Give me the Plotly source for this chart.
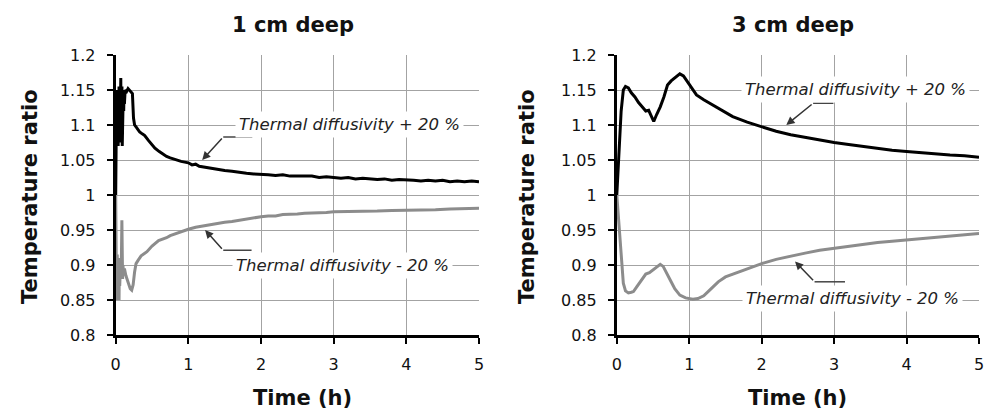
import plotly.graph_objects as go

# ---------------- data ----------------
t_1cm_plus = [0.0, 0.003, 0.006, 0.009, 0.012, 0.015, 0.018, 0.021, 0.024, 0.027, 0.03, 0.034, 0.038, 0.042,
              0.046, 0.05, 0.054, 0.058, 0.062, 0.066, 0.07, 0.074, 0.078, 0.082, 0.086, 0.09, 0.095, 0.10,
              0.105, 0.11, 0.115, 0.12, 0.13, 0.15, 0.17, 0.19, 0.21, 0.23, 0.245, 0.26, 0.29, 0.33, 0.37,
              0.40, 0.45, 0.50, 0.54, 0.60, 0.66, 0.70, 0.75, 0.80, 0.85, 0.90, 0.95, 1.00, 1.05, 1.10, 1.15,
              1.20, 1.3, 1.4, 1.5, 1.6, 1.7, 1.8, 1.9, 2.0, 2.1, 2.2, 2.3, 2.4, 2.5, 2.6, 2.7, 2.8, 2.9, 3.0,
              3.1, 3.2, 3.3, 3.4, 3.5, 3.6, 3.7, 3.8, 3.9, 4.0, 4.1, 4.2, 4.3, 4.4, 4.5, 4.6, 4.7, 4.8, 4.9, 5.0]
v_1cm_plus = [1.00, 1.10, 1.13, 1.07, 1.14, 1.08, 1.15, 1.075, 1.145, 1.085, 1.15, 1.07, 1.14, 1.09,
              1.155, 1.075, 1.145, 1.08, 1.15, 1.09, 1.167, 1.085, 1.15, 1.10, 1.155, 1.07, 1.14, 1.10,
              1.15, 1.12, 1.148, 1.13, 1.15, 1.148, 1.152, 1.15, 1.148, 1.145, 1.11, 1.10, 1.096, 1.09, 1.087,
              1.085, 1.078, 1.072, 1.067, 1.062, 1.057, 1.055, 1.053, 1.051, 1.049, 1.048, 1.047, 1.046, 1.043,
              1.044, 1.041, 1.040, 1.038, 1.037, 1.035, 1.034, 1.032, 1.031, 1.030, 1.030, 1.029, 1.028, 1.029,
              1.027, 1.027, 1.026, 1.027, 1.025, 1.026, 1.025, 1.024, 1.025, 1.023, 1.024, 1.023, 1.022, 1.023,
              1.021, 1.022, 1.022, 1.021, 1.020, 1.021, 1.020, 1.021, 1.019, 1.020, 1.019, 1.020, 1.019]

t_1cm_minus = [0.0, 0.003, 0.006, 0.009, 0.012, 0.015, 0.018, 0.021, 0.024, 0.027, 0.03, 0.034, 0.038, 0.042,
               0.046, 0.05, 0.055, 0.06, 0.065, 0.07, 0.075, 0.08, 0.085, 0.09, 0.095, 0.10, 0.11, 0.12, 0.14,
               0.16, 0.18, 0.20, 0.22, 0.24, 0.26, 0.28, 0.31, 0.35, 0.43, 0.50, 0.59, 0.65, 0.70, 0.75, 0.80,
               0.85, 0.90, 1.0, 1.1, 1.2, 1.3, 1.4, 1.5, 1.6, 1.7, 1.8, 1.9, 2.0, 2.1, 2.2, 2.3, 2.4, 2.5, 2.6,
               2.7, 2.8, 2.9, 3.0, 3.2, 3.4, 3.6, 3.8, 4.0, 4.2, 4.4, 4.6, 4.8, 5.0]
v_1cm_minus = [1.00, 0.90, 0.86, 0.91, 0.85, 0.90, 0.855, 0.915, 0.86, 0.90, 0.85, 0.91, 0.86, 0.895,
               0.85, 0.90, 0.87, 0.905, 0.875, 0.91, 0.88, 0.93, 0.964, 0.92, 0.88, 0.90, 0.885, 0.895, 0.885,
               0.878, 0.872, 0.866, 0.864, 0.872, 0.89, 0.902, 0.907, 0.913, 0.919, 0.927, 0.935, 0.937, 0.939,
               0.942, 0.944, 0.946, 0.948, 0.951, 0.954, 0.956, 0.958, 0.960, 0.961, 0.962, 0.964, 0.966, 0.968,
               0.969, 0.970, 0.970, 0.972, 0.972, 0.973, 0.974, 0.974, 0.975, 0.975, 0.976, 0.976, 0.977, 0.977,
               0.978, 0.978, 0.979, 0.979, 0.980, 0.980, 0.981]

t_3cm_plus = [0, 0.03, 0.06, 0.09, 0.12, 0.16, 0.2, 0.25, 0.3, 0.35, 0.4, 0.44, 0.48, 0.51, 0.55, 0.6, 0.65,
              0.7, 0.75, 0.8, 0.87, 0.92, 0.97, 1.02, 1.1, 1.2, 1.3, 1.4, 1.5, 1.6, 1.8, 2.0, 2.2, 2.4, 2.6,
              2.8, 3.0, 3.2, 3.4, 3.6, 3.8, 4.0, 4.2, 4.4, 4.6, 4.8, 5.0]
v_3cm_plus = [1.0, 1.06, 1.12, 1.15, 1.155, 1.153, 1.146, 1.14, 1.132, 1.126, 1.12, 1.121, 1.112, 1.105, 1.115,
              1.126, 1.14, 1.157, 1.163, 1.167, 1.173, 1.17, 1.162, 1.155, 1.143, 1.136, 1.13, 1.125, 1.118,
              1.112, 1.104, 1.097, 1.091, 1.086, 1.082, 1.078, 1.075, 1.072, 1.069, 1.066, 1.064, 1.062, 1.060,
              1.059, 1.057, 1.056, 1.054]

t_3cm_minus = [0, 0.03, 0.06, 0.09, 0.12, 0.16, 0.2, 0.23, 0.27, 0.3, 0.35, 0.4, 0.45, 0.5, 0.55, 0.6, 0.64,
               0.7, 0.75, 0.8, 0.87, 0.95, 1.05, 1.12, 1.2, 1.3, 1.4, 1.5, 1.6, 1.75, 1.9, 2.0, 2.2, 2.4, 2.6,
               2.8, 3.0, 3.2, 3.4, 3.6, 3.8, 4.0, 4.2, 4.4, 4.6, 4.8, 5.0]
v_3cm_minus = [1.0, 0.96, 0.91, 0.874, 0.863, 0.86, 0.861, 0.862, 0.868, 0.872, 0.879, 0.887, 0.889, 0.893,
               0.896, 0.901, 0.898, 0.887, 0.876, 0.866, 0.857, 0.853, 0.851, 0.852, 0.856, 0.866, 0.876, 0.883,
               0.887, 0.892, 0.898, 0.902, 0.908, 0.913, 0.917, 0.921, 0.924, 0.927, 0.930, 0.932, 0.934, 0.936,
               0.938, 0.940, 0.942, 0.943, 0.945]

x_tickvals = [0, 1, 2, 3, 4, 5]
y_tickvals = [0.8, 0.85, 0.9, 0.95, 1.0, 1.05, 1.1, 1.15, 1.2]
y_ticktext = ["0.8", "0.85", "0.9", "0.95", "1", "1.05", "1.1", "1.15", "1.2"]

panel_titles = ["1 cm deep", "3 cm deep"]
x_title = "Time (h)"
y_title = "Temperature ratio"
label_plus = "Thermal diffusivity + 20 %"
label_minus = "Thermal diffusivity - 20 %"

# ---------------- figure ----------------
FONT = "DejaVu Sans"
BLACK = "#000000"
GREY = "#8c8c8c"
GRID = "#a3a3a3"

fig = go.Figure()
fig.add_trace(go.Scatter(x=t_1cm_plus, y=v_1cm_plus, mode="lines", line=dict(color=BLACK, width=3),
                         xaxis="x", yaxis="y", showlegend=False))
fig.add_trace(go.Scatter(x=t_1cm_minus, y=v_1cm_minus, mode="lines", line=dict(color=GREY, width=3),
                         xaxis="x", yaxis="y", showlegend=False))
fig.add_trace(go.Scatter(x=t_3cm_plus, y=v_3cm_plus, mode="lines", line=dict(color=BLACK, width=3),
                         xaxis="x2", yaxis="y2", showlegend=False))
fig.add_trace(go.Scatter(x=t_3cm_minus, y=v_3cm_minus, mode="lines", line=dict(color=GREY, width=3),
                         xaxis="x2", yaxis="y2", showlegend=False))

W, H = 987, 418
ydom = [1 - 335 / H, 1 - 55 / H]
xdom1 = [115.7 / W, 479 / W]
xdom2 = [616.8 / W, 979 / W]

def xaxis(dom, anchor):
    return dict(domain=dom, anchor=anchor, range=[0, 5], tickvals=x_tickvals,
                showgrid=True, gridcolor=GRID, gridwidth=1.3,
                showline=True, linecolor=BLACK, linewidth=3,
                ticks="outside", ticklen=6, tickwidth=2, tickcolor=BLACK,
                ticklabelstandoff=7, automargin=False,
                tickfont=dict(family=FONT, size=16, color="#111"), zeroline=False)

def yaxis(anchor):
    return dict(domain=ydom, anchor=anchor, range=[0.8, 1.2], tickvals=y_tickvals, ticktext=y_ticktext,
                showgrid=True, gridcolor=GRID, gridwidth=1.3,
                showline=True, linecolor=BLACK, linewidth=3,
                ticks="outside", ticklen=6, tickwidth=2, tickcolor=BLACK,
                ticklabelstandoff=8, automargin=False,
                tickfont=dict(family=FONT, size=16, color="#111"), zeroline=False)

fig.update_layout(
    width=W, height=H, margin=dict(l=0, r=0, t=0, b=0, pad=0, autoexpand=False),
    paper_bgcolor="white", plot_bgcolor="white",
    xaxis=xaxis(xdom1, "y"), yaxis=yaxis("x"),
    xaxis2=xaxis(xdom2, "y2"), yaxis2=yaxis("x2"),
)

annotations = []
shapes = []
C = dict(xanchor="center", yanchor="middle")
# titles
for cx, txt in [(293 / W, panel_titles[0]), (793 / W, panel_titles[1])]:
    annotations.append(dict(x=cx, y=1 - 25 / H, xref="paper", yref="paper", text="<b>%s</b>" % txt,
                            showarrow=False, font=dict(family=FONT, size=21, color="#111"), **C))
for cx in [302 / W, 797 / W]:
    annotations.append(dict(x=cx, y=1 - 398 / H, xref="paper", yref="paper", text="<b>%s</b>" % x_title,
                            showarrow=False, font=dict(family=FONT, size=21, color="#111"), **C))
for cx in [30 / W, 527 / W]:
    annotations.append(dict(x=cx, y=1 - 197 / H, xref="paper", yref="paper", text="<b>%s</b>" % y_title,
                            textangle=-90, showarrow=False, font=dict(family=FONT, size=21, color="#111"), **C))

# callouts: (xref, yref, text pos, text, arrow tip, elbow, end)
callouts = [
    ("x", "y", (3.22, 1.10), label_plus, (1.19, 1.05), (1.48, 1.083), (1.88, 1.083)),
    ("x", "y", (3.12, 0.90), label_minus, (1.23, 0.95), (1.48, 0.921), (1.87, 0.921)),
    ("x2", "y2", (3.30, 1.151), label_plus, (2.34, 1.10), (2.71, 1.131), (2.99, 1.131)),
    ("x2", "y2", (3.26, 0.852), label_minus, (2.46, 0.905), (2.73, 0.876), (3.15, 0.876)),
]
for xr, yr, tp, txt, tip, elbow, end in callouts:
    annotations.append(dict(x=tp[0], y=tp[1], xref=xr, yref=yr, text="<i>%s</i>" % txt, showarrow=False,
                            bgcolor="white", borderpad=3,
                            font=dict(family=FONT, size=16.5, color="#222"), **C))
    shapes.append(dict(type="line", xref=xr, yref=yr, x0=elbow[0], y0=elbow[1], x1=end[0], y1=end[1],
                       line=dict(color="#444", width=1.5)))
    annotations.append(dict(x=tip[0], y=tip[1], xref=xr, yref=yr, ax=elbow[0], ay=elbow[1],
                            axref=xr, ayref=yr, text="", showarrow=True, arrowhead=2, arrowsize=1.1,
                            arrowwidth=1.5, arrowcolor="#333"))

fig.update_layout(annotations=annotations, shapes=shapes)
fig.write_html("out.html")
